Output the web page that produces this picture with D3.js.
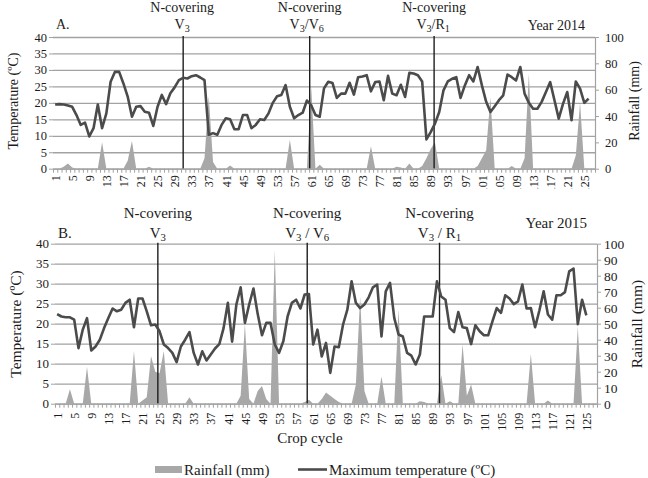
<!DOCTYPE html>
<html lang="en">
<head>
    <meta charset="UTF-8">
    <script src="https://d3js.org/d3.v7.min.js"></script>
    <title>Rainfall and maximum temperature</title>
    <style>
        body { margin: 0; background: #fff; }
        svg { display: block; }
    </style>
</head>
<body>
<svg id="chart" width="648" height="478"></svg>
<script>
// crop cycle has 127 day slots on the axis
const nDays = 127;
const dayLabels = [1, 5, 9, 13, 17, 21, 25, 29, 33, 37, 41, 45, 49, 53, 57, 61, 65, 69, 73, 77, 81, 85, 89, 93, 97, 101, 105, 109, 113, 117, 121, 125];
const tempTicks = [0, 5, 10, 15, 20, 25, 30, 35, 40];
const rainTicksA = [0, 20, 40, 60, 80, 100];
const rainTicksB = [0, 10, 20, 30, 40, 50, 60, 70, 80, 90, 100];

// 2014
const tempA = [
    19.5, 19.6, 19.5, 19.2, 18.8, 16.3, 13.3, 14.0, 9.8, 12.3,
    19.5, 12.3, 16.8, 26.4, 29.4, 29.4, 25.9, 21.9, 15.8, 18.8,
    19.0, 17.3, 17.0, 13.0, 18.8, 22.4, 19.6, 22.9, 24.7, 26.9,
    27.6, 27.4, 28.1, 28.4, 27.7, 26.9, 10.3, 10.8, 10.3, 13.3,
    15.3, 15.0, 12.0, 12.0, 16.3, 16.3, 12.3, 13.3, 15.0, 14.8,
    16.8, 20.0, 22.0, 22.4, 25.4, 18.8, 15.3, 16.3, 17.0, 20.7,
    19.3, 16.3, 15.8, 24.4, 26.4, 26.0, 21.5, 22.8, 22.8, 26.1,
    22.5, 27.8, 28.0, 28.4, 23.5, 26.3, 26.5, 20.8, 28.2, 22.8,
    22.3, 25.5, 21.8, 29.1, 28.9, 28.4, 26.5, 8.9, 11.1, 13.7,
    17.2, 23.8, 26.5, 27.3, 27.8, 21.5, 25.3, 28.4, 26.5, 30.9,
    25.3, 20.3, 17.2, 19.0, 20.8, 22.3, 28.6, 27.8, 26.8, 30.9,
    22.8, 20.0, 18.2, 18.2, 20.3, 23.3, 26.3, 20.8, 15.2, 19.7,
    23.3, 14.7, 26.5, 24.3, 20.0, 21.3
];
const rainA = [
    0, 0, 1.5, 4, 1, 0, 0, 0, 0, 0,
    0, 20, 0, 0, 0, 0, 0, 6, 21, 0,
    0, 0, 1.5, 0, 0, 0, 0, 0, 0, 0,
    0, 0, 0, 0, 0, 8, 55, 5, 0, 0,
    0, 2.5, 0, 0, 0, 0, 0, 0, 0, 0,
    0, 0, 0, 0, 0, 22, 0, 0, 0, 0,
    62, 0, 3, 0, 0, 0, 0, 0, 0, 0,
    0, 0, 0, 0, 17, 0, 0, 0, 0, 0,
    1.5, 1, 0, 4, 0, 0, 2, 8, 15, 20,
    0, 0, 0, 0, 0, 0, 0, 0, 0, 2,
    8, 14, 54, 0, 0, 0, 0, 2, 0, 0,
    8, 72, 0, 0, 0, 0, 0, 0, 0, 0,
    0, 0, 10, 50, 0, 0
];
const eventDaysA = [31, 60.65, 89.8];
const eventStagesA = ["V_3", "V_3/V_6", "V_3/R_1"];

// 2015
const tempB = [
    22.4, 21.8, 21.6, 21.6, 21.0, 13.9, 18.5, 21.4, 13.3, 14.3,
    16.0, 18.9, 21.4, 23.8, 23.1, 23.5, 25.2, 26.0, 19.1, 26.3,
    26.3, 23.1, 19.6, 19.8, 18.1, 14.8, 13.9, 12.7, 10.4, 14.3,
    16.0, 17.9, 12.7, 9.8, 13.1, 10.8, 12.3, 13.8, 14.9, 18.9,
    25.2, 15.5, 24.8, 29.1, 20.2, 24.8, 28.8, 22.4, 17.1, 20.2,
    20.2, 14.8, 12.7, 15.6, 21.8, 25.2, 26.0, 23.8, 27.3, 27.4,
    14.8, 18.5, 11.8, 15.2, 7.7, 14.3, 14.1, 19.8, 23.5, 30.6,
    25.2, 23.9, 24.8, 26.6, 29.1, 29.8, 16.8, 28.1, 30.2, 21.4,
    17.3, 16.8, 12.7, 12.0, 9.8, 12.3, 21.8, 21.8, 21.8, 30.6,
    26.8, 26.0, 18.9, 17.9, 22.9, 19.1, 18.9, 14.9, 19.6, 18.1,
    17.1, 17.1, 20.6, 23.9, 22.7, 27.1, 26.3, 24.9, 25.6, 29.8,
    23.8, 23.9, 19.1, 23.3, 28.1, 22.3, 21.0, 27.1, 27.1, 27.9,
    33.1, 33.8, 19.9, 26.0, 22.1
];
const rainB = [
    0, 0, 0, 9, 0, 0, 0, 23, 0, 0,
    0, 0, 0, 0, 0, 0, 0, 0, 33, 0,
    2, 4, 29.6, 20, 19, 33, 0, 0, 0, 0,
    0, 4, 0, 0, 0, 0, 0, 0, 0, 0,
    0, 0, 0, 5, 50, 3, 0, 8, 11, 3,
    0, 96, 0, 0, 0, 0, 0, 0, 1, 2.5,
    0, 0, 3, 7, 5, 3, 1, 0, 0, 0,
    12, 67, 8, 0, 0, 0, 17, 0, 0, 0,
    59, 0, 0, 0, 0, 1.5, 1, 0, 0, 0,
    18, 0, 1.5, 0, 0, 37, 5, 12, 0, 0,
    0, 0, 0, 0, 0, 0, 0, 0, 0, 0,
    0, 31, 0, 0, 0, 2, 0, 0, 0, 0,
    0, 0, 48, 0, 0
];
const eventDaysB = [24.6, 59.6, 90.6];
const eventStagesB = ["V_3", "V_3 / V_6", "V_3 / R_1"];

const serif = "'Liberation Serif', 'Times New Roman', serif";
const textColor = "#1c1c1c";
const gridColor = "#a2a2a2";
const lineColor = "#4b4b4b";
const rainColor = "#a8a8a8";

const svg = d3.select("#chart");

// top panel is cropped just under its day labels
svg.append("defs").append("clipPath").attr("id", "clipA")
    .append("rect").attr("x", 0).attr("y", 0).attr("width", 648).attr("height", 189);

// writes "V_3/V_6" with subscripts
function stageText(sel, str, size) {
    const parts = str.split(/_(\d)/);
    let down = false;
    parts.forEach((p, i) => {
        if (p === "") return;
        const t = sel.append("tspan").text(p);
        if (i % 2 === 1) {
            t.attr("font-size", size * 0.72).attr("dy", down ? 0 : size * 0.22);
            down = true;
        } else if (down) {
            t.attr("dy", -size * 0.22);
            down = false;
        }
    });
}

function drawPanel(p) {
    const x = d3.scaleLinear().domain([0.5, nDays + 0.5]).range([p.left, p.right]);
    const yT = d3.scaleLinear().domain([0, 40]).range([p.bottom, p.top]);
    const yR = d3.scaleLinear().domain([0, 100]).range([p.bottom, p.top]);
    const g = svg.append("g");
    if (p.clip) g.attr("clip-path", "url(#" + p.clip + ")");

    // horizontal grid on the temperature ticks
    g.append("g")
        .attr("transform", "translate(" + p.left + ",0)")
        .call(d3.axisLeft(yT).tickValues(tempTicks).tickSize(-(p.right - p.left)).tickFormat(""))
        .call(a => a.select(".domain").remove())
        .selectAll("line").attr("stroke", gridColor).attr("stroke-width", 1.3);

    g.append("path")
        .datum(p.rain)
        .attr("fill", rainColor)
        .attr("d", d3.area().x((d, i) => x(i + 1)).y0(yR(0)).y1(d => yR(d)));

    g.selectAll(".event")
        .data(p.events)
        .enter().append("line")
        .attr("class", "event")
        .attr("x1", d => x(d)).attr("x2", d => x(d))
        .attr("y1", yT(40) - 1).attr("y2", yT(0))
        .attr("stroke", "#1e1e1e").attr("stroke-width", 1.4);

    g.append("path")
        .datum(p.temp)
        .attr("fill", "none")
        .attr("stroke", lineColor)
        .attr("stroke-width", 2.6)
        .attr("stroke-linejoin", "round")
        .attr("d", d3.line().x((d, i) => x(i + 1)).y(d => yT(d)));

    // left axis
    g.append("g")
        .attr("transform", "translate(" + p.left + ",0)")
        .call(d3.axisLeft(yT).tickValues(tempTicks).tickSize(4).tickPadding(2))
        .attr("font-family", serif).attr("font-size", p.tickFont)
        .call(a => a.select(".domain").remove())
        .call(a => a.selectAll("line").attr("stroke", gridColor))
        .call(a => a.selectAll("text").attr("fill", textColor));

    // right axis
    g.append("g")
        .attr("transform", "translate(" + p.right + ",0)")
        .call(d3.axisRight(yR).tickValues(p.rainTicks).tickSize(4).tickSizeOuter(0).tickPadding(p.rightPad))
        .attr("font-family", serif).attr("font-size", p.rightFont)
        .call(a => a.select(".domain").attr("stroke", gridColor).attr("stroke-width", 1.2))
        .call(a => a.selectAll("line").attr("stroke", gridColor))
        .call(a => a.selectAll("text").attr("fill", textColor));

    // category ticks
    g.append("g")
        .attr("transform", "translate(0," + p.bottom + ")")
        .call(d3.axisBottom(x).tickValues(d3.range(0.5, nDays + 1, 1)).tickSize(4).tickSizeOuter(0).tickFormat(""))
        .call(a => a.select(".domain").attr("stroke", gridColor).attr("stroke-width", 1.3))
        .call(a => a.selectAll("line").attr("stroke", gridColor));

    // day labels, rotated
    g.append("g")
        .attr("transform", "translate(0," + p.bottom + ")")
        .call(d3.axisBottom(x).tickValues(dayLabels).tickSize(0))
        .attr("font-family", serif).attr("font-size", p.dayFont)
        .call(a => a.select(".domain").remove())
        .selectAll("text")
        .attr("fill", textColor)
        .attr("transform", "rotate(-90)")
        .attr("x", -p.labelGap).attr("y", 0).attr("dy", "0.35em")
        .attr("text-anchor", "end");

    // N-covering notes
    p.events.forEach((d, i) => {
        g.append("text")
            .attr("x", x(d) + p.noteShift[i]).attr("y", p.noteY1)
            .attr("text-anchor", "middle")
            .attr("font-family", serif).attr("font-size", p.noteFont).attr("fill", textColor)
            .text("N-covering");
        const st = g.append("text")
            .attr("x", x(d) + p.stageShift[i]).attr("y", p.noteY2)
            .attr("text-anchor", "middle")
            .attr("font-family", serif).attr("font-size", p.noteFont).attr("fill", textColor);
        stageText(st, p.stages[i], p.noteFont);
    });

    g.append("text")
        .attr("x", p.left + 3).attr("y", p.noteY2)
        .attr("font-family", serif).attr("font-size", p.noteFont).attr("fill", textColor)
        .text(p.letter);

    g.append("text")
        .attr("x", p.right - 10).attr("y", p.yearY)
        .attr("text-anchor", "end")
        .attr("font-family", serif).attr("font-size", p.noteFont).attr("fill", textColor)
        .text(p.year);

    g.append("text")
        .attr("transform", "translate(" + p.leftTitleX + "," + p.titleY + ") rotate(-90)")
        .attr("text-anchor", "middle").attr("dy", "0.35em")
        .attr("font-family", serif).attr("font-size", p.titleFont).attr("fill", textColor)
        .text("Temperature (ºC)");

    g.append("text")
        .attr("transform", "translate(" + p.rightTitleX + "," + p.titleY + ") rotate(-90)")
        .attr("text-anchor", "middle").attr("dy", "0.35em")
        .attr("font-family", serif).attr("font-size", p.titleFont).attr("fill", textColor)
        .text("Rainfall (mm)");
}

drawPanel({
    temp: tempA, rain: rainA, events: eventDaysA, stages: eventStagesA,
    rainTicks: rainTicksA, letter: "A.", year: "Year 2014", clip: "clipA",
    left: 53, right: 595, top: 37, bottom: 168.7,
    tickFont: 12.5, rightFont: 12.5, rightPad: 6, dayFont: 12, labelGap: 6.5,
    noteFont: 14, noteY1: 12, noteY2: 28.5, yearY: 29.5,
    noteShift: [-1, 0, 0], stageShift: [-1, -3, -1],
    titleFont: 14, leftTitleX: 13, rightTitleX: 634, titleY: 101
});

drawPanel({
    temp: tempB, rain: rainB, events: eventDaysB, stages: eventStagesB,
    rainTicks: rainTicksB, letter: "B.", year: "Year 2015",
    left: 55, right: 597, top: 243.7, bottom: 403.7,
    tickFont: 13, rightFont: 13.5, rightPad: 3, dayFont: 12, labelGap: 9,
    noteFont: 15, noteY1: 218, noteY2: 237.5, yearY: 227.5,
    noteShift: [0, 0, 0], stageShift: [0, 0, 0],
    titleFont: 15.5, leftTitleX: 16, rightTitleX: 637, titleY: 324
});

svg.append("text")
    .attr("x", 310).attr("y", 443)
    .attr("text-anchor", "middle")
    .attr("font-family", serif).attr("font-size", 15).attr("fill", textColor)
    .text("Crop cycle");

// legend
const legend = svg.append("g").attr("font-family", serif).attr("font-size", 15).attr("fill", textColor);
legend.append("rect").attr("x", 155).attr("y", 466).attr("width", 27).attr("height", 7).attr("fill", rainColor);
legend.append("text").attr("x", 184).attr("y", 475).text("Rainfall (mm)");
legend.append("line").attr("x1", 298).attr("x2", 327).attr("y1", 469.5).attr("y2", 469.5)
    .attr("stroke", lineColor).attr("stroke-width", 2.6);
legend.append("text").attr("x", 329).attr("y", 475).text("Maximum temperature (ºC)");
</script>
</body>
</html>
